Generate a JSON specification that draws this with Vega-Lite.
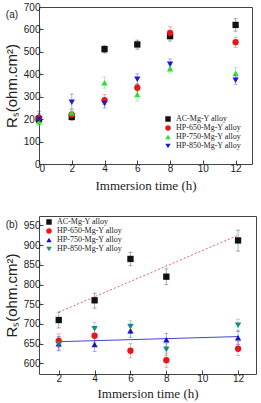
{
  "$schema": "https://vega.github.io/schema/vega-lite/v6.json",
  "padding": {"left": 3, "top": 1, "right": 2, "bottom": 1},
  "spacing": 22,
  "background": "white",
  "config": {
    "view": {"stroke": "#444", "strokeWidth": 1},
    "axis": {"domain": false, "grid": false, "tickSize": -4, "tickColor": "#444", "labelFont": "Liberation Sans", "labelFontSize": 10, "labelColor": "#222", "labelPadding": 3, "titleColor": "#222", "titleFontWeight": "normal"},
    "legend": {"labelFont": "Liberation Serif", "labelFontSize": 8, "labelFontWeight": "normal", "labelColor": "#222", "symbolSize": 30, "symbolOpacity": 1, "rowPadding": 1, "padding": 0, "symbolStrokeWidth": 0},
    "font": "Liberation Serif"
  },
  "datasets": {
    "a": [
      {"t": 0, "s": "AC-Mg-Y alloy", "v": 200, "lo": 185, "hi": 215},
      {"t": 2, "s": "AC-Mg-Y alloy", "v": 210, "lo": 195, "hi": 225},
      {"t": 4, "s": "AC-Mg-Y alloy", "v": 512, "lo": 495, "hi": 528},
      {"t": 6, "s": "AC-Mg-Y alloy", "v": 533, "lo": 512, "hi": 552},
      {"t": 8, "s": "AC-Mg-Y alloy", "v": 570, "lo": 548, "hi": 590},
      {"t": 12, "s": "AC-Mg-Y alloy", "v": 620, "lo": 592, "hi": 648},
      {"t": 0, "s": "HP-650-Mg-Y alloy", "v": 207, "lo": 190, "hi": 225},
      {"t": 2, "s": "HP-650-Mg-Y alloy", "v": 220, "lo": 205, "hi": 235},
      {"t": 4, "s": "HP-650-Mg-Y alloy", "v": 285, "lo": 265, "hi": 310},
      {"t": 6, "s": "HP-650-Mg-Y alloy", "v": 340, "lo": 322, "hi": 358},
      {"t": 8, "s": "HP-650-Mg-Y alloy", "v": 585, "lo": 562, "hi": 612},
      {"t": 12, "s": "HP-650-Mg-Y alloy", "v": 543, "lo": 520, "hi": 565},
      {"t": 0, "s": "HP-750-Mg-Y alloy", "v": 188, "lo": 172, "hi": 205},
      {"t": 2, "s": "HP-750-Mg-Y alloy", "v": 228, "lo": 210, "hi": 245},
      {"t": 4, "s": "HP-750-Mg-Y alloy", "v": 362, "lo": 338, "hi": 388},
      {"t": 6, "s": "HP-750-Mg-Y alloy", "v": 310, "lo": 280, "hi": 340},
      {"t": 8, "s": "HP-750-Mg-Y alloy", "v": 425, "lo": 405, "hi": 445},
      {"t": 12, "s": "HP-750-Mg-Y alloy", "v": 405, "lo": 385, "hi": 430},
      {"t": 0, "s": "HP-850-Mg-Y alloy", "v": 200, "lo": 180, "hi": 235},
      {"t": 2, "s": "HP-850-Mg-Y alloy", "v": 275, "lo": 245, "hi": 312},
      {"t": 4, "s": "HP-850-Mg-Y alloy", "v": 270, "lo": 250, "hi": 290},
      {"t": 6, "s": "HP-850-Mg-Y alloy", "v": 378, "lo": 355, "hi": 402},
      {"t": 8, "s": "HP-850-Mg-Y alloy", "v": 445, "lo": 425, "hi": 468},
      {"t": 12, "s": "HP-850-Mg-Y alloy", "v": 373, "lo": 355, "hi": 392}
    ],
    "b": [
      {"t": 2, "s": "AC-Mg-Y alloy", "v": 710, "lo": 690, "hi": 730},
      {"t": 4, "s": "AC-Mg-Y alloy", "v": 760, "lo": 740, "hi": 778},
      {"t": 6, "s": "AC-Mg-Y alloy", "v": 865, "lo": 848, "hi": 882},
      {"t": 8, "s": "AC-Mg-Y alloy", "v": 820, "lo": 800, "hi": 840},
      {"t": 12, "s": "AC-Mg-Y alloy", "v": 912, "lo": 885, "hi": 938},
      {"t": 2, "s": "HP-650-Mg-Y alloy", "v": 657, "lo": 640, "hi": 675},
      {"t": 4, "s": "HP-650-Mg-Y alloy", "v": 670, "lo": 652, "hi": 688},
      {"t": 6, "s": "HP-650-Mg-Y alloy", "v": 632, "lo": 614, "hi": 650},
      {"t": 8, "s": "HP-650-Mg-Y alloy", "v": 608, "lo": 590, "hi": 626},
      {"t": 12, "s": "HP-650-Mg-Y alloy", "v": 637, "lo": 620, "hi": 655},
      {"t": 2, "s": "HP-750-Mg-Y alloy", "v": 650, "lo": 632, "hi": 668},
      {"t": 4, "s": "HP-750-Mg-Y alloy", "v": 648, "lo": 630, "hi": 666},
      {"t": 6, "s": "HP-750-Mg-Y alloy", "v": 683, "lo": 666, "hi": 700},
      {"t": 8, "s": "HP-750-Mg-Y alloy", "v": 660, "lo": 643, "hi": 676},
      {"t": 12, "s": "HP-750-Mg-Y alloy", "v": 665, "lo": 648, "hi": 682},
      {"t": 2, "s": "HP-850-Mg-Y alloy", "v": 650, "lo": 634, "hi": 666},
      {"t": 4, "s": "HP-850-Mg-Y alloy", "v": 688, "lo": 672, "hi": 704},
      {"t": 6, "s": "HP-850-Mg-Y alloy", "v": 693, "lo": 676, "hi": 708},
      {"t": 8, "s": "HP-850-Mg-Y alloy", "v": 635, "lo": 620, "hi": 650},
      {"t": 12, "s": "HP-850-Mg-Y alloy", "v": 697, "lo": 682, "hi": 712}
    ],
    "fits": [
      {"t": 2, "v": 730, "f": "AC"},
      {"t": 12, "v": 925, "f": "AC"},
      {"t": 2, "v": 655, "f": "HP"},
      {"t": 12, "v": 668, "f": "HP"}
    ],
    "labA": [{"t": -1.65, "v": 664, "txt": "(a)"}],
    "labB": [{"t": -0.62, "v": 950, "txt": "(b)"}]
  },
  "vconcat": [
    {
      "width": 213,
      "height": 157,
      "encoding": {
        "x": {"field": "t", "type": "quantitative", "scale": {"domain": [0, 13], "nice": false}, "axis": {"values": [0, 2, 4, 6, 8, 10, 12], "title": "Immersion time (h)", "titleFont": "Liberation Serif", "titleFontSize": 13, "titleFontWeight": "normal", "titlePadding": 6}},
        "y": {"field": "v", "type": "quantitative", "title": "Rₛ(ohm.cm²)", "scale": {"domain": [0, 700], "nice": false}, "axis": {"values": [0, 100, 200, 300, 400, 500, 600, 700], "title": "Rₛ(ohm.cm²)", "titleFont": "Liberation Sans", "titleFontSize": 15, "titleFontWeight": "normal", "titlePadding": 4}},
        "color": {"field": "s", "type": "nominal", "scale": {"domain": ["AC-Mg-Y alloy", "HP-650-Mg-Y alloy", "HP-750-Mg-Y alloy", "HP-850-Mg-Y alloy"], "range": ["#111111", "#e8161b", "#2ee02e", "#1c1cd0"]}, "legend": {"orient": "none", "legendX": 125, "legendY": 108, "title": null}}
      },
      "layer": [
        {
          "data": {"name": "a"},
          "mark": {"type": "rule", "opacity": 0.35},
          "encoding": {
            "y": {"field": "lo", "type": "quantitative", "title": "Rₛ(ohm.cm²)"},
            "y2": {"field": "hi"}
          }
        },
        {
          "data": {"name": "a"},
          "mark": {"type": "tick", "opacity": 0.35, "orient": "horizontal", "size": 4, "thickness": 1},
          "encoding": {
            "y": {"field": "lo", "type": "quantitative", "title": "Rₛ(ohm.cm²)"}
          }
        },
        {
          "data": {"name": "a"},
          "mark": {"type": "tick", "opacity": 0.35, "orient": "horizontal", "size": 4, "thickness": 1},
          "encoding": {
            "y": {"field": "hi", "type": "quantitative", "title": "Rₛ(ohm.cm²)"}
          }
        },
        {
          "data": {"name": "a"},
          "mark": {"type": "point", "filled": true, "opacity": 1, "size": 40},
          "encoding": {
            "shape": {"field": "s", "type": "nominal", "scale": {"domain": ["AC-Mg-Y alloy", "HP-650-Mg-Y alloy", "HP-750-Mg-Y alloy", "HP-850-Mg-Y alloy"], "range": ["square", "circle", "triangle-up", "triangle-down"]}, "legend": {"orient": "none", "legendX": 125, "legendY": 108, "title": null}}
          }
        },
        {
          "data": {"name": "labA"},
          "mark": {"type": "text", "clip": false, "font": "Liberation Sans", "fontSize": 10},
          "encoding": {
            "text": {"field": "txt"},
            "color": {"value": "#222"}
          }
        }
      ]
    },
    {
      "width": 217,
      "height": 158,
      "encoding": {
        "x": {"field": "t", "type": "quantitative", "scale": {"domain": [0.9, 13], "nice": false}, "axis": {"values": [2, 4, 6, 8, 10, 12], "title": "Immersion time (h)", "titleFont": "Liberation Serif", "titleFontSize": 13, "titleFontWeight": "normal", "titlePadding": 4}},
        "y": {"field": "v", "type": "quantitative", "title": "Rₛ(ohm.cm²)", "scale": {"domain": [573, 974], "nice": false}, "axis": {"values": [600, 650, 700, 750, 800, 850, 900, 950], "title": "Rₛ(ohm.cm²)", "titleFont": "Liberation Sans", "titleFontSize": 15, "titleFontWeight": "normal", "titlePadding": 4}},
        "color": {"field": "s", "type": "nominal", "scale": {"domain": ["AC-Mg-Y alloy", "HP-650-Mg-Y alloy", "HP-750-Mg-Y alloy", "HP-850-Mg-Y alloy"], "range": ["#111111", "#e8161b", "#1414c8", "#1d8a80"]}, "legend": {"orient": "none", "legendX": 6, "legendY": 2, "title": null}}
      },
      "layer": [
        {
          "data": {"name": "fits"},
          "transform": [{"filter": "datum.f === 'AC'"}],
          "mark": {"type": "line", "strokeWidth": 1, "strokeDash": [2, 2]},
          "encoding": {"color": {"value": "#e06070"}}
        },
        {
          "data": {"name": "fits"},
          "transform": [{"filter": "datum.f === 'HP'"}],
          "mark": {"type": "line", "strokeWidth": 1},
          "encoding": {"color": {"value": "#4444cc"}}
        },
        {
          "data": {"name": "b"},
          "mark": {"type": "rule", "opacity": 0.35},
          "encoding": {
            "y": {"field": "lo", "type": "quantitative", "title": "Rₛ(ohm.cm²)"},
            "y2": {"field": "hi"}
          }
        },
        {
          "data": {"name": "b"},
          "mark": {"type": "tick", "opacity": 0.35, "orient": "horizontal", "size": 4, "thickness": 1},
          "encoding": {
            "y": {"field": "lo", "type": "quantitative", "title": "Rₛ(ohm.cm²)"}
          }
        },
        {
          "data": {"name": "b"},
          "mark": {"type": "tick", "opacity": 0.35, "orient": "horizontal", "size": 4, "thickness": 1},
          "encoding": {
            "y": {"field": "hi", "type": "quantitative", "title": "Rₛ(ohm.cm²)"}
          }
        },
        {
          "data": {"name": "b"},
          "mark": {"type": "point", "filled": true, "opacity": 1, "size": 40},
          "encoding": {
            "shape": {"field": "s", "type": "nominal", "scale": {"domain": ["AC-Mg-Y alloy", "HP-650-Mg-Y alloy", "HP-750-Mg-Y alloy", "HP-850-Mg-Y alloy"], "range": ["square", "circle", "triangle-up", "triangle-down"]}, "legend": {"orient": "none", "legendX": 6, "legendY": 2, "title": null}}
          }
        },
        {
          "data": {"name": "labB"},
          "mark": {"type": "text", "clip": false, "font": "Liberation Sans", "fontSize": 10},
          "encoding": {
            "text": {"field": "txt"},
            "color": {"value": "#222"}
          }
        }
      ]
    }
  ],
  "resolve": {"scale": {"color": "independent", "shape": "independent"}, "legend": {"color": "independent", "shape": "independent"}}
}
